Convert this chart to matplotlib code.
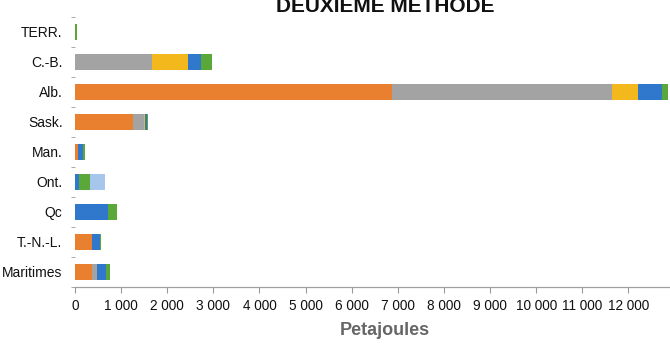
import matplotlib
matplotlib.use("Agg")
import matplotlib.pyplot as plt
from matplotlib.ticker import FuncFormatter
import numpy as np

# provinces, bottom to top
provinces = ["Maritimes", "T.-N.-L.", "Qc", "Ont.", "Man.", "Sask.", "Alb.", "C.-B.", "TERR."]

# petajoules per source, same order as provinces
orange = [370, 370, 0, 0, 75, 1250, 6870, 0, 0]
grey = [115, 0, 0, 0, 0, 245, 4780, 1660, 0]
yellow = [0, 0, 0, 0, 0, 30, 560, 780, 0]
blue = [190, 175, 710, 95, 105, 45, 520, 290, 0]
green = [85, 15, 210, 240, 30, 20, 120, 245, 35]
light_blue = [0, 0, 0, 320, 0, 0, 0, 0, 0]

series = [orange, grey, yellow, blue, green, light_blue]
colors = ["#E8802F", "#A3A3A3", "#F2B81C", "#2F78CC", "#5AA83A", "#A6C6EC"]

plt.rcParams["font.family"] = ["Liberation Sans", "DejaVu Sans"]

fig = plt.figure(figsize=(6.7, 3.44), dpi=100)
ax = fig.add_axes([0.1119, 0.1657, 0.8881, 0.7856])

y = np.arange(len(provinces))
left = np.zeros(len(provinces))
for values, c in zip(series, colors):
    ax.barh(y, values, left=left, height=0.54, color=c, linewidth=0)
    left += np.array(values)

ax.set_xlim(0, 12900)
ax.set_ylim(-0.36, 8.5)

ax.set_xticks(np.arange(0, 13000, 1000))
ax.xaxis.set_major_formatter(FuncFormatter(lambda v, p: "{:,}".format(int(v)).replace(",", " ")))
ax.set_yticks(y)
ax.set_yticklabels(provinces)
ax.set_yticks(np.arange(-0.5, 9, 1), minor=True)

ax.tick_params(axis="x", length=4, color="#999999", labelsize=9.8, pad=5, labelcolor="#111111")
ax.tick_params(axis="y", which="major", length=0, labelsize=10, pad=9, labelcolor="#111111")
ax.tick_params(axis="y", which="minor", length=3, color="#999999")

for s in ["top", "right", "left"]:
    ax.spines[s].set_visible(False)
ax.spines["bottom"].set_color("#A0A0A0")
ax.spines["bottom"].set_linewidth(0.9)

ax.set_xlabel("Petajoules", fontsize=13, fontweight="bold", color="#666666")
ax.xaxis.set_label_coords(0.52, -0.13)

fig.text(0.575, 1 - 12 / 344, "DEUXIEME METHODE", fontsize=15, fontweight="bold",
         ha="center", va="baseline", color="#111111")

fig.savefig("out.png", dpi=100)
